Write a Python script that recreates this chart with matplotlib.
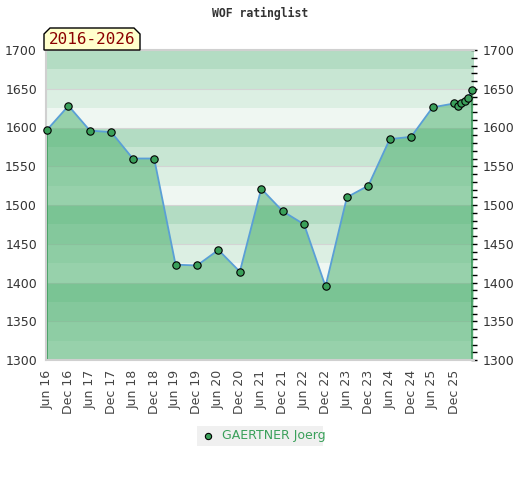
import matplotlib
matplotlib.use("Agg")
import matplotlib.pyplot as plt
from matplotlib.patches import Polygon, FancyBboxPatch
from matplotlib.ticker import MultipleLocator

# months counted from Jun 2016
months = [0, 6, 12, 18, 24, 30, 36, 42, 48, 54, 60, 66, 72, 78, 84, 90, 96,
          102, 108, 114, 115, 116, 117, 118, 119]
ratings = [1597, 1628, 1596, 1594, 1560, 1560, 1423, 1422, 1442, 1414, 1521,
           1492, 1475, 1395, 1510, 1525, 1585, 1588, 1626, 1631, 1628, 1631,
           1634, 1638, 1649]
tick_pos = list(range(0, 115, 6))
tick_labels = ["Jun 16", "Dec 16", "Jun 17", "Dec 17", "Jun 18", "Dec 18",
               "Jun 19", "Dec 19", "Jun 20", "Dec 20", "Jun 21", "Dec 21",
               "Jun 22", "Dec 22", "Jun 23", "Dec 23", "Jun 24", "Dec 24",
               "Jun 25", "Dec 25"]
player = "GAERTNER Joerg"
period = "2016-2026"
band_colors = ["#eff7f2", "#dcefe3", "#c8e6d3", "#b3dcc3"]

W, H = 520, 480
fig = plt.figure(figsize=(5.2, 4.8), dpi=100)
ax = fig.add_axes([46 / W, 1 - 360 / H, 428 / W, 310 / H])

y0, y1 = 1300, 1700
for i, b in enumerate(range(y0, y1, 25)):
    ax.axhspan(b, b + 25, color=band_colors[i % 4], lw=0, zorder=0)
for g in range(y0, y1 + 1, 50):
    ax.axhline(g, color="#d4d4d4", lw=0.8, zorder=0.5)

ax.fill_between(months, ratings, y0, facecolor="#47ae6a", alpha=0.52,
                edgecolor="none", zorder=1)
ax.plot([months[0], months[0]], [y0, ratings[0]], color="#3a9a5a", lw=1.2, zorder=2)
ax.plot([months[-1], months[-1]], [y0, ratings[-1]], color="#3a9a5a", lw=1.2, zorder=2)
ax.plot(months, ratings, color="#5a9fd6", lw=1.3, zorder=3)
ax.plot(months, ratings, ls="none", marker="o", ms=5.3, mfc="#3aa05a",
        mec="black", mew=0.8, zorder=4, clip_on=False)

ax.set_xlim(-0.3, 119.6)
ax.set_ylim(y0, y1)
ax.set_xticks(tick_pos)
ax.set_xticklabels(tick_labels, rotation=90, fontsize=9, color="#444444")
ax.tick_params(axis="x", length=0, pad=7)
ax.set_yticks(range(y0, y1 + 1, 50))
ax.tick_params(axis="y", left=False, right=True, labelleft=True, labelright=True,
               labelsize=9, labelcolor="#333333", direction="inout", length=5,
               width=1, color="black", pad=4)
ax.yaxis.set_minor_locator(MultipleLocator(10))
ax.tick_params(axis="y", which="minor", left=False, right=True,
               direction="inout", length=5, width=1, color="black")
for s in ["top", "left", "bottom"]:
    ax.spines[s].set_color("#d0d0d0")
    ax.spines[s].set_linewidth(1.5)
ax.spines["right"].set_visible(False)

fig.text(260 / W, 1 - 13 / H, "WOF ratinglist", ha="center", va="center",
         family="DejaVu Sans Mono", weight="bold", fontsize=8.3, color="#333333")

# period label box with cut corners
c = 6
px = [44, 44, 44 + c, 140 - c, 140, 140]
py = [50, 34, 28, 28, 34, 50]
box = Polygon([(x / W, 1 - y / H) for x, y in zip(px, py)], closed=True,
              transform=fig.transFigure, facecolor="#ffffcc", edgecolor="black",
              lw=1, zorder=5)
fig.patches.append(box)
fig.text(92 / W, 1 - 40 / H, period, ha="center", va="center",
         family="DejaVu Sans Mono", fontsize=11.5, color="#8b0000", zorder=6)

# legend
leg = FancyBboxPatch((197 / W, 1 - 446 / H), 126 / W, 20 / H,
                     boxstyle="square,pad=0", transform=fig.transFigure,
                     facecolor="#f0f0f0", edgecolor="none")
fig.patches.append(leg)
fig.lines.append(plt.Line2D([208 / W], [1 - 436 / H], transform=fig.transFigure,
                            marker="o", ms=4.5, mfc="#3aa05a", mec="black", mew=0.8))
fig.text(222 / W, 1 - 436 / H, player, ha="left", va="center", fontsize=9,
         color="#3aa05a")

plt.savefig("out.png", dpi=100)
